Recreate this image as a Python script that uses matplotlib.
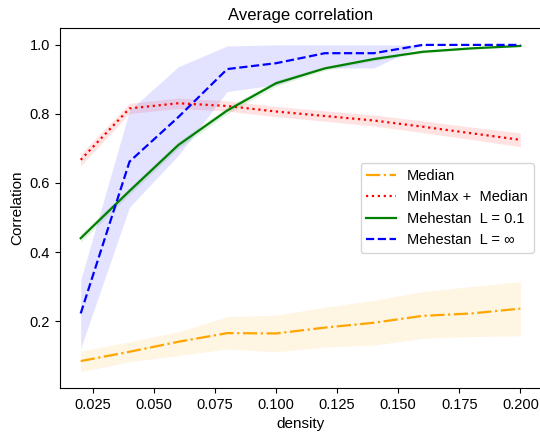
import matplotlib
matplotlib.use("Agg")
import matplotlib.pyplot as plt

plt.rcParams["font.family"] = ["Liberation Sans", "DejaVu Sans"]
plt.rcParams["font.size"] = 10.5

density = [0.02, 0.04, 0.06, 0.08, 0.10, 0.12, 0.14, 0.16, 0.18, 0.20]

median = [0.084, 0.111, 0.140, 0.165, 0.164, 0.181, 0.195, 0.215, 0.222, 0.236]
median_lo = [0.053, 0.082, 0.100, 0.119, 0.111, 0.125, 0.130, 0.150, 0.155, 0.157]
median_hi = [0.113, 0.140, 0.169, 0.213, 0.217, 0.240, 0.260, 0.285, 0.300, 0.314]

minmax = [0.667, 0.816, 0.831, 0.823, 0.807, 0.794, 0.781, 0.763, 0.744, 0.725]
minmax_lo = [0.650, 0.801, 0.816, 0.808, 0.792, 0.779, 0.765, 0.746, 0.726, 0.705]
minmax_hi = [0.684, 0.831, 0.846, 0.838, 0.822, 0.809, 0.797, 0.780, 0.762, 0.745]

meh01 = [0.440, 0.577, 0.710, 0.810, 0.889, 0.932, 0.959, 0.980, 0.990, 0.997]
meh01_lo = [0.428, 0.567, 0.700, 0.800, 0.881, 0.926, 0.954, 0.976, 0.987, 0.995]
meh01_hi = [0.452, 0.587, 0.720, 0.820, 0.897, 0.938, 0.964, 0.984, 0.993, 0.999]

mehinf = [0.222, 0.662, 0.791, 0.930, 0.947, 0.976, 0.976, 1.000, 1.000, 1.000]
mehinf_lo = [0.121, 0.530, 0.680, 0.865, 0.884, 0.933, 0.933, 1.000, 1.000, 1.000]
mehinf_hi = [0.319, 0.810, 0.937, 0.997, 1.000, 1.000, 1.000, 1.000, 1.000, 1.000]

fig = plt.figure(figsize=(5.4, 4.34), dpi=100)
ax = fig.add_axes([0.111, 0.106, 0.891, 0.8295])

series = [
    ("Median", median, median_lo, median_hi, "orange", "-."),
    ("MinMax +  Median", minmax, minmax_lo, minmax_hi, "red", ":"),
    ("Mehestan  L = 0.1", meh01, meh01_lo, meh01_hi, "green", "-"),
    ("Mehestan  L = \u221e", mehinf, mehinf_lo, mehinf_hi, "blue", "--"),
]

for label, y, lo, hi, color, ls in series:
    ax.fill_between(density, lo, hi, color=color, alpha=0.11, linewidth=0)
    ax.plot(density, y, color=color, linestyle=ls, linewidth=1.6, label=label)

ax.set_xlim(0.0115, 0.2085)
ax.set_ylim(0.006, 1.049)
ax.set_yticks([0.2, 0.4, 0.6, 0.8, 1.0])
ax.set_xlabel("density", fontsize=11)
ax.set_ylabel("Correlation", fontsize=11)
ax.set_title("Average correlation", fontsize=12)
ax.legend(loc="center right")

fig.savefig("out.png", dpi=100)
